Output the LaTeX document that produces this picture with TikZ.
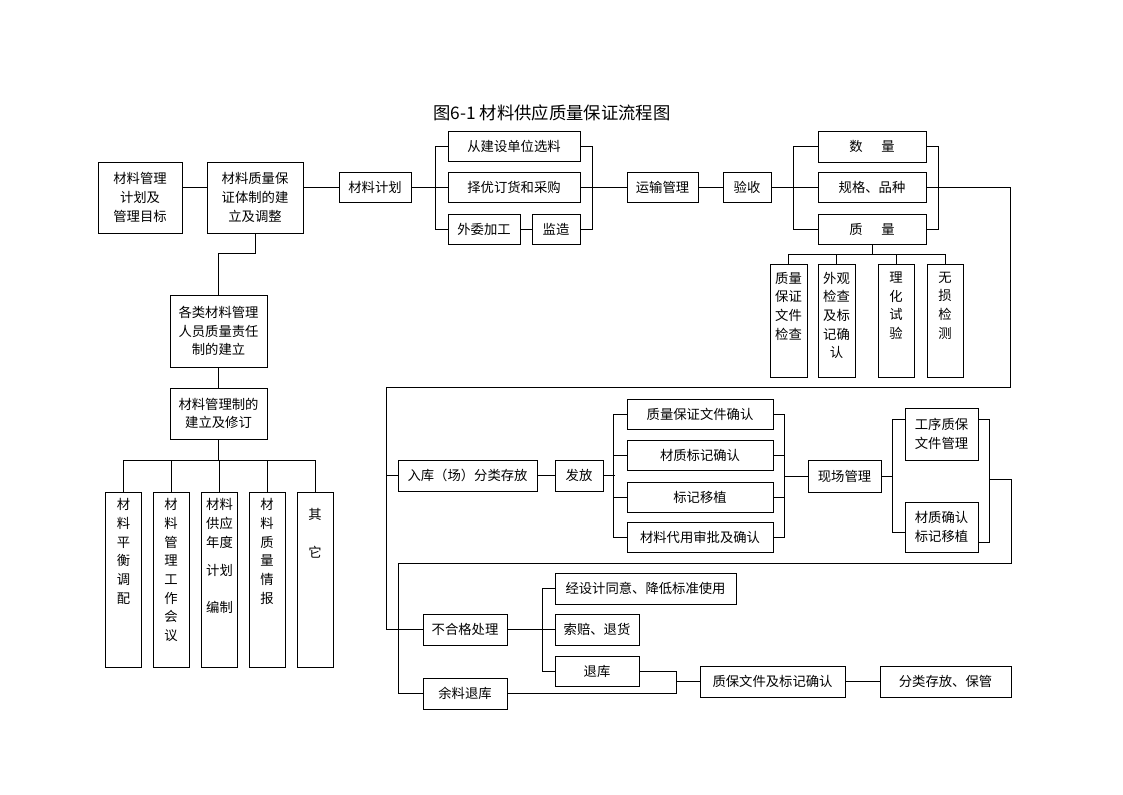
\documentclass[tikz,border=0pt]{standalone}
\usepackage{fontspec}
\newfontfamily\cjk{Noto Sans CJK SC}
\begin{document}
\begin{tikzpicture}[x=0.75pt,y=-0.75pt,
    box/.style={draw,line width=0.75pt,inner sep=0pt,align=center,
      font=\cjk\fontsize{10}{14}\selectfont},
    line/.style={line width=0.75pt}]
    \useasboundingbox (0,0) rectangle (1123,794);
    \node[font=\cjk\fontsize{13}{15}\selectfont] (title) at (552,113) {图6-1 材料供应质量保证流程图};

    % top row
    \node[box,minimum width=63pt,minimum height=53.25pt] (a1) at (140,197.5) {材料管理\\计划及\\管理目标};
    \node[box,minimum width=72pt,minimum height=53.25pt] (a2) at (255,197.5) {材料质量保\\证体制的建\\立及调整};
    \node[box,minimum width=54pt,minimum height=22.5pt] (a3) at (375,187) {材料计划};
    \node[box,minimum width=99pt,minimum height=22.5pt] (b1) at (514,146) {从建设单位选料};
    \node[box,minimum width=99pt,minimum height=22.5pt] (b2) at (514,187) {择优订货和采购};
    \node[box,minimum width=54pt,minimum height=22.5pt] (b3) at (484,229) {外委加工};
    \node[box,minimum width=36pt,minimum height=22.5pt] (b4) at (556,229) {监造};
    \node[box,minimum width=53.25pt,minimum height=22.5pt] (c1) at (662.5,187) {运输管理};
    \node[box,minimum width=36pt,minimum height=22.5pt] (c2) at (747,187) {验收};
    \node[box,minimum width=81pt,minimum height=23.25pt] (d1) at (872,146.5) {数\hspace{1.4em}量};
    \node[box,minimum width=81pt,minimum height=22.5pt] (d2) at (872,187) {规格、品种};
    \node[box,minimum width=81pt,minimum height=22.5pt] (d3) at (872,229) {质\hspace{1.4em}量};

    % checks under quality
    \node[box,minimum width=27.75pt,minimum height=84.75pt] (h1) at (788.5,320.5)
      {\parbox[c][84.75pt][t]{26pt}{\centering\vspace*{6pt}质量\\保证\\文件\\检查}};
    \node[box,minimum width=27.75pt,minimum height=84.75pt] (h2) at (836.5,320.5)
      {\parbox[c][84.75pt][t]{26pt}{\centering\vspace*{6pt}外观\\检查\\及标\\记确\\认}};
    \node[box,minimum width=27pt,minimum height=84.75pt] (h3) at (896,320.5)
      {\parbox[c][84.75pt][t]{26pt}{\centering\vspace*{6pt}理\\化\\试\\验}};
    \node[box,minimum width=27pt,minimum height=84.75pt] (h4) at (945,320.5)
      {\parbox[c][84.75pt][t]{26pt}{\centering\vspace*{6pt}无\\损\\检\\测}};

    % left column
    \node[box,minimum width=72.75pt,minimum height=54pt] (q1) at (218.5,331) {各类材料管理\\人员质量责任\\制的建立};
    \node[box,minimum width=72.75pt,minimum height=38.25pt] (q2) at (218.5,413.5) {材料管理制的\\建立及修订};
    \node[box,minimum width=27pt,minimum height=131.25pt] (g1) at (123.5,579.5)
      {\parbox[c][131.25pt][t]{26pt}{\centering\vspace*{5pt}材\\料\\平\\衡\\调\\配}};
    \node[box,minimum width=27pt,minimum height=131.25pt] (g2) at (171,579.5)
      {\parbox[c][131.25pt][t]{26pt}{\centering\vspace*{5pt}材\\料\\管\\理\\工\\作\\会\\议}};
    \node[box,minimum width=27pt,minimum height=131.25pt] (g3) at (219.5,579.5)
      {\parbox[c][131.25pt][t]{26pt}{\centering\vspace*{5pt}材料\\供应\\年度\\[7pt]计划\\[14pt]编制}};
    \node[box,minimum width=27pt,minimum height=131.25pt] (g4) at (267,579.5)
      {\parbox[c][131.25pt][t]{26pt}{\centering\vspace*{5pt}材\\料\\质\\量\\情\\报}};
    \node[box,minimum width=27pt,minimum height=131.25pt] (g5) at (315,579.5)
      {\parbox[c][131.25pt][t]{26pt}{\centering\vspace*{12pt}其\\[14.5pt]它}};

    % storage and site
    \node[box,minimum width=104.25pt,minimum height=23.25pt] (j1) at (467.5,475.5) {入库（场）分类存放};
    \node[box,minimum width=36pt,minimum height=23.25pt] (j2) at (579,475.5) {发放};
    \node[box,minimum width=109.5pt,minimum height=22.5pt] (e1) at (700,414) {质量保证文件确认};
    \node[box,minimum width=109.5pt,minimum height=22.5pt] (e2) at (700,455) {材质标记确认};
    \node[box,minimum width=109.5pt,minimum height=22.5pt] (e3) at (700,497) {标记移植};
    \node[box,minimum width=109.5pt,minimum height=22.5pt] (e4) at (700,537) {材料代用审批及确认};
    \node[box,minimum width=54.75pt,minimum height=24pt] (x1) at (844.5,476) {现场管理};
    \node[box,minimum width=54.75pt,minimum height=39pt] (f1) at (941.5,434) {工序质保\\文件管理};
    \node[box,minimum width=54.75pt,minimum height=37.5pt] (f2) at (941.5,527) {材质确认\\标记移植};

    % rejects and returns
    \node[box,minimum width=63pt,minimum height=23.25pt] (n1) at (465,629.5) {不合格处理};
    \node[box,minimum width=63pt,minimum height=23.25pt] (n2) at (465,693.5) {余料退库};
    \node[box,minimum width=135.75pt,minimum height=23.25pt] (k1) at (645.5,588.5) {经设计同意、降低标准使用};
    \node[box,minimum width=63pt,minimum height=23.25pt] (k2) at (597,629.5) {索赔、退货};
    \node[box,minimum width=63pt,minimum height=22.5pt] (k3) at (597,671) {退库};
    \node[box,minimum width=108.75pt,minimum height=23.25pt] (l1) at (772.5,681.5) {质保文件及标记确认};
    \node[box,minimum width=98.25pt,minimum height=23.25pt] (l2) at (945.5,681.5) {分类存放、保管};

    \coordinate (hbar) at (0,254);
    \coordinate (gbar) at (0,460);
    \coordinate (r1) at (1010,387);
    \coordinate (lv) at (386,387);
    \coordinate (r2) at (1011,563);
    \coordinate (lv2) at (398,563);
    \coordinate (fl1) at (892,419);
    \coordinate (fl2) at (892,532);
    \coordinate (fr1) at (989,419);
    \coordinate (fr2) at (989,542);
    \coordinate (fo) at (989,479);
    \coordinate (kj) at (676,681.5);

    % connectors, top
    \draw[line] (a1.east |- a3) -- (a2.west |- a3);
    \draw[line] (a2.east |- a3) -- (a3.west);
    \draw[line] (a3.east) -- (b2.west);
    \draw[line] (b1.west) -- ++(-12,0) |- (b3.west);
    \draw[line] (b1.east) -- ++(12,0) |- (b4.east);
    \draw[line] (b3) -- (b4);
    \draw[line] (b2.east) -- (c1.west);
    \draw[line] (c1) -- (c2);
    \draw[line] (c2.east) -- (d2.west);
    \draw[line] (d1.west) -- ++(-24,0) |- (d3.west);
    \draw[line] (d1.east) -- ++(12,0) |- (d3.east);
    \draw[line] (d3.south) -- (d3.south |- hbar);
    \draw[line] (h1.north |- hbar) -- (h4.north |- hbar);
    \foreach \n in {h1,h2,h3,h4}
      \draw[line] (\n.north) -- (\n.north |- hbar);

    % connectors, left
    \draw[line] (a2.south) -- ++(0,20) -| (q1.north);
    \draw[line] (q1) -- (q2);
    \draw[line] (q2.south) -- (q2.south |- gbar);
    \draw[line] (g1.north |- gbar) -- (g5.north |- gbar);
    \foreach \n in {g1,g2,g3,g4,g5}
      \draw[line] (\n.north) -- (\n.north |- gbar);

    % connectors, middle
    \draw[line] (d2.east) -| (r1) -- (lv) |- (n1.west);
    \draw[line] (j1.west) -- (j1.west -| lv);
    \draw[line] (j1) -- (j2);
    \draw[line] (j2.east) -- ++(11,0);
    \draw[line] (e1.west) -- ++(-13,0) |- (e4.west);
    \draw[line] (e2.west) -- ++(-13,0);
    \draw[line] (e3.west) -- ++(-13,0);
    \draw[line] (e1.east) -- ++(11,0) |- (e4.east);
    \draw[line] (e2.east) -- ++(11,0);
    \draw[line] (e3.east) -- ++(11,0);
    \draw[line] (x1.west) -- ++(-24,0);
    \draw[line] (x1.east) -- (x1.east -| fl1);
    \draw[line] (f1.west |- fl1) -- (fl1) -- (fl2) -- (f2.west |- fl2);
    \draw[line] (f1.east |- fr1) -- (fr1) -- (fr2) -- (f2.east |- fr2);
    \draw[line] (fo) -| (r2) -- (lv2) |- (n2.west);

    % connectors, bottom
    \draw[line] (n1.east) -- (k2.west);
    \draw[line] (k1.west) -- ++(-12,0) |- (k3.west);
    \draw[line] (k3.east) -| (kj |- n2) -- (n2.east);
    \draw[line] (kj) -- (l1.west);
    \draw[line] (l1) -- (l2);
\end{tikzpicture}
\end{document}
